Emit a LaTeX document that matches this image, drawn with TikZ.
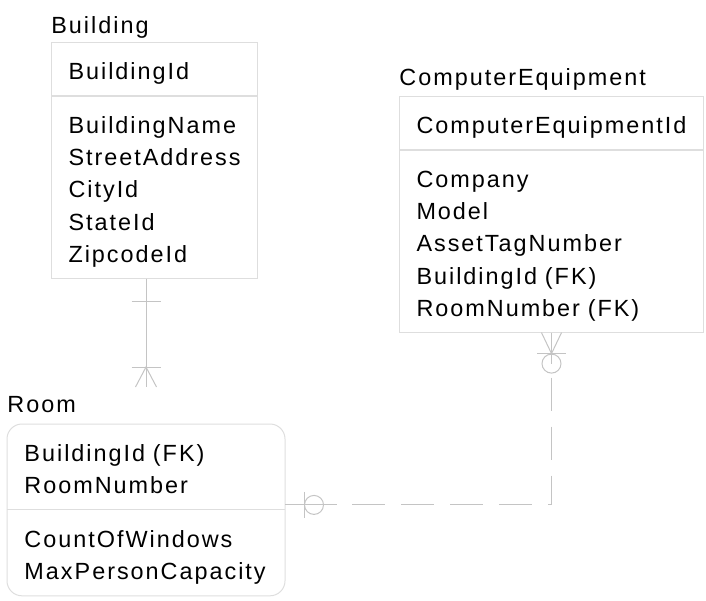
\documentclass[tikz,border=0pt]{standalone}
\usepackage{fontspec}
\newfontfamily\erfont{Liberation Sans}[LetterSpace=8.5]
\usetikzlibrary{positioning}
\definecolor{boxgray}{RGB}{222,222,222}
\definecolor{relgray}{RGB}{196,196,196}
\newcommand{\entTop}{\rule{0pt}{18.5pt}}
\newcommand{\entBot}{\rule[-7.75pt]{0pt}{7.75pt}}
\hyphenpenalty=10000

\begin{document}
\begin{tikzpicture}[
  x=0.5pt, y=-0.5pt,
  entity/.style={anchor=north west, inner xsep=8.5pt, inner ysep=0pt, align=left, line width=0.5pt, font=\erfont\fontsize{11.7}{16.2}\selectfont},
  title/.style={anchor=base west, inner sep=0pt, font=\erfont\fontsize{11.7}{13}\selectfont},
  boxline/.style={draw=boxgray, line width=0.5pt},
  relline/.style={draw=relgray, line width=0.5pt}
]
  \useasboundingbox (0,0) rectangle (706,600);

  % entities
  \node[entity, boxline, text width=86pt] (bldKey) at (51,42) {\entTop BuildingId\entBot};
  \node[entity, boxline, text width=86pt] (bldAttr) at (bldKey.south west) {\entTop BuildingName\\StreetAddress\\CityId\\StateId\\ZipcodeId\entBot};
  \node[above=4.5pt of bldKey.north west, title] (bldTitle) {Building};

  \node[entity, boxline, text width=135pt] (ceKey) at (399,96) {\entTop ComputerEquipmentId\entBot};
  \node[entity, boxline, text width=135pt] (ceAttr) at (ceKey.south west) {\entTop Company\\Model\\AssetTagNumber\\BuildingId (FK)\\RoomNumber (FK)\entBot};
  \node[above=5.5pt of ceKey.north west, title] (ceTitle) {ComputerEquipment};

  \node[entity, text width=121.5pt] (roomKey) at (7,424) {\entTop BuildingId (FK)\\RoomNumber\entBot};
  \node[entity, text width=121.5pt] (roomAttr) at (roomKey.south west) {\entTop CountOfWindows\\MaxPersonCapacity\entBot};
  \node[above=6pt of roomKey.north west, title] (roomTitle) {Room};
  \draw[boxline, rounded corners=7.5pt] (roomKey.north west) rectangle (roomAttr.south east);
  \draw[boxline] (roomKey.south west) -- (roomKey.south east);

  % Building -- Room
  \coordinate (rmTop) at ([yshift=18.5pt]roomKey.north);
  \draw[relline] (bldAttr.south -| rmTop) -- (rmTop);
  \draw[relline] (bldAttr.south -| rmTop) ++(-14.5,23) -- ++(29,0);
  \draw[relline] (rmTop) ++(-14.5,-20) -- ++(29,0);
  \draw[relline] (rmTop) ++(-10.5,0) -- ++(10.5,-20) -- ++(10.5,20);

  % ComputerEquipment -- Room
  \coordinate (rmSide) at ([yshift=2.5pt]roomAttr.north east);
  \coordinate (ceBend) at (ceAttr.south |- rmSide);
  \draw[relline] (ceAttr.south) -- ++(0,31);
  \draw[relline] (ceAttr.south) ++(-10,0) -- ++(10,21) -- ++(10,-21);
  \draw[relline] (ceAttr.south) ++(-14.5,21) -- ++(29,0);
  \draw[relline] (ceAttr.south) ++(0,31) circle[radius=4.75pt];
  \draw[relline, dash pattern=on 16.5pt off 8pt] ([yshift=-22.5pt]ceAttr.south) -- (ceBend) -- ([xshift=26pt]rmSide);
  \draw[relline] (rmSide) -- ++(52,0);
  \draw[relline] (rmSide) ++(19,-13) -- ++(0,26);
  \draw[relline] (rmSide) ++(29,0) circle[radius=4.75pt];
\end{tikzpicture}
\end{document}
